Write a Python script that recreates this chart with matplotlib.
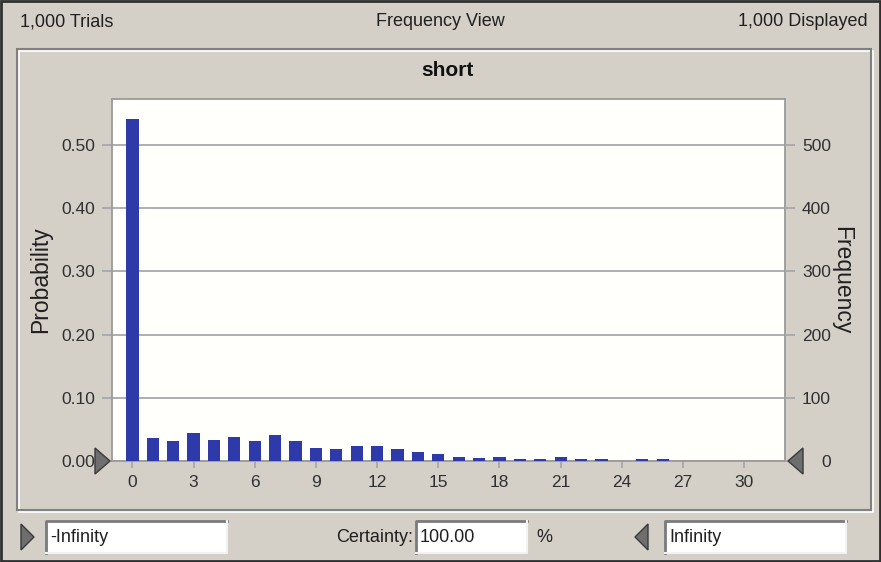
import matplotlib.pyplot as plt
from matplotlib.patches import Rectangle, Polygon
import numpy as np

plt.rcParams['font.family'] = ['Liberation Sans', 'DejaVu Sans']
NARROW = ['Liberation Sans Narrow', 'Liberation Sans', 'DejaVu Sans']

# data
trials = 1000
bins = list(range(0, 27))
counts = [541, 36, 31, 44, 34, 38, 31, 41, 31, 21, 19, 23, 23, 19, 14,
          11, 7, 4, 7, 3, 3, 7, 3, 3, 0, 3, 3]
x_ticks = [0, 3, 6, 9, 12, 15, 18, 21, 24, 27, 30]
prob_ticks = [0.0, 0.1, 0.2, 0.3, 0.4, 0.5]
prob_labels = ['0.00', '0.10', '0.20', '0.30', '0.40', '0.50']
freq_ticks = [0, 100, 200, 300, 400, 500]

W, H = 881, 562
BG = '#d4d0c8'
BAR = '#2e3aaa'
GRID = '#a8a8a8'
TXT = '#202020'

fig = plt.figure(figsize=(W / 100, H / 100), dpi=100)
fig.patch.set_facecolor(BG)


def frac(x0, y0, x1, y1):
    return [x0 / W, 1 - y1 / H, (x1 - x0) / W, (y1 - y0) / H]


# main plot, pixel box 112..785 x 99..461
ax = fig.add_axes(frac(112, 99, 785, 461))
ax.set_facecolor('#fffffc')
probs = np.array(counts) / trials
ax.bar(bins, probs, width=0.6, color=BAR, zorder=3)
ax.set_xlim(-1, 32)
ax.set_ylim(0, 0.5728)
ax.set_xticks(x_ticks)
ax.set_yticks(prob_ticks)
ax.set_yticklabels(prob_labels)
ax.grid(axis='y', color=GRID, lw=1.3, zorder=0)
ax.tick_params(axis='y', length=7, color=GRID, width=1.3, pad=5,
               labelsize=12.5, labelcolor='#303030')
ax.tick_params(axis='x', length=5, color=GRID, width=1.3, pad=5,
               labelsize=12.5, labelcolor='#303030')
for s in ax.spines.values():
    s.set_color('#9a9a9a')
    s.set_linewidth(1.3)
ax.set_ylabel('Probability', fontsize=16.5, color=TXT, labelpad=7)

ax2 = ax.twinx()
ax2.set_ylim(0, 572.8)
ax2.set_yticks(freq_ticks)
ax2.tick_params(axis='y', length=7, color=GRID, width=1.3, pad=26,
                labelsize=12.5, labelcolor='#303030')
for t in ax2.get_yticklabels():
    t.set_horizontalalignment('right')
for s in ax2.spines.values():
    s.set_visible(False)
ax2.set_ylabel('Frequency', fontsize=16.5, color=TXT, rotation=270, labelpad=16)

# overlay in pixel coordinates for the window chrome
ov = fig.add_axes([0, 0, 1, 1], zorder=5)
ov.set_xlim(0, W)
ov.set_ylim(H, 0)
ov.axis('off')
ov.patch.set_alpha(0)

# outer border
ov.add_patch(Rectangle((1, 1), W - 2, H - 2, fill=False, ec='#303030', lw=2))
# etched panel frame
ov.add_patch(Rectangle((18.5, 50.5), 872 - 18, 510 - 49, fill=False, ec='white', lw=1.2))
ov.add_patch(Rectangle((17, 49), 872 - 18, 510 - 49, fill=False, ec='#808080', lw=1.5))

# axis limit markers
tri = dict(fc='#6e6e6e', ec='#3a3a3a', lw=1)
ov.add_patch(Polygon([[95, 448], [110, 461], [95, 474]], **tri))
ov.add_patch(Polygon([[803, 448], [788, 461], [803, 474]], **tri))

# header texts
hdr = dict(fontsize=13, color=TXT, va='center', family=NARROW)
ov.text(20, 22, '1,000 Trials', ha='left', **hdr)
ov.text(440, 22, 'Frequency View', ha='center', **hdr)
ov.text(868, 22, '1,000 Displayed', ha='right', **hdr)
ov.text(448, 70, 'short', fontsize=15, fontweight='bold', color='#101010',
        ha='center', va='center')


def textbox(x0, x1, label):
    y0, y1 = 521, 553
    ov.add_patch(Rectangle((x0, y0), x1 - x0, y1 - y0, fc='white', ec='none'))
    ov.plot([x0, x0, x1], [y1, y0, y0], color='#7a7a7a', lw=2)
    ov.plot([x0, x1, x1], [y1, y1, y0], color='#f2f2f2', lw=1.5)
    ov.text(x0 + 4, 537, label, ha='left', **hdr)


ov.add_patch(Polygon([[21, 524], [34, 537], [21, 550]], **tri))
textbox(46, 227, '-Infinity')
ov.text(413, 537, 'Certainty:', ha='right', **hdr)
textbox(416, 527, '100.00')
ov.text(536, 537, '%', ha='left', **hdr)
ov.add_patch(Polygon([[648, 524], [635, 537], [648, 550]], **tri))
textbox(665, 846, 'Infinity')

fig.savefig('out.png', dpi=100, facecolor=BG)
